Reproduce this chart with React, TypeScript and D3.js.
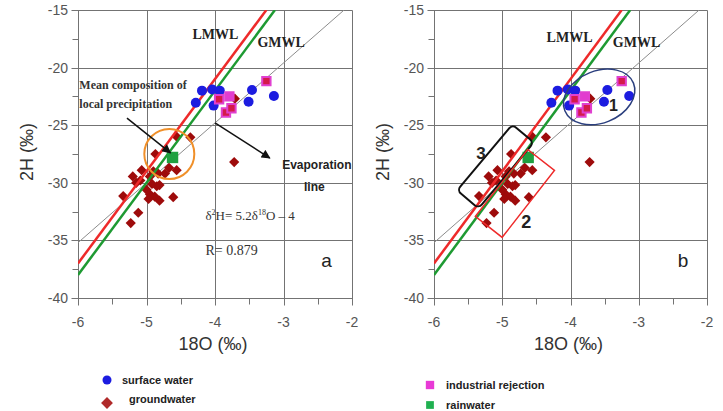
import React from 'react'
import * as d3 from 'd3'

// axis ticks
const xTicks = [-6, -5, -4, -3, -2]
const xMinorTicks = [-5.5, -4.5, -3.5, -2.5]
const yTicks = [-40, -35, -30, -25, -20, -15]
const yMinorTicks = [-37.5, -32.5, -27.5, -22.5, -17.5]

// surface water (blue circles)
const surfaceX = [-4.28, -4.19, -4.04, -4.02, -3.93, -3.46, -3.51, -3.14]
const surfaceY = [-23.05, -22.0, -21.9, -23.3, -22.0, -21.95, -22.96, -22.47]

// groundwater (dark red diamonds)
const groundX = [-3.71, -3.72, -4.36, -4.56, -4.87, -5.2, -5.07, -5.09, -4.95, -4.83, -4.73, -4.67, -4.56, -4.85, -4.95, -4.88, -4.61, -5.34, -4.92, -4.81, -4.97, -4.81, -5.12, -5.23, -5.0, -5.15, -4.9]
const groundY = [-22.7, -28.2, -26.05, -26.0, -27.5, -29.45, -28.9, -29.8, -29.45, -29.2, -29.2, -28.7, -28.9, -30.3, -31.0, -31.2, -31.25, -31.15, -30.1, -30.2, -31.4, -31.55, -32.6, -33.5, -30.6, -30.0, -29.0]

// industrial rejection (magenta squares)
const industrialX = [-3.25, -3.79, -3.94, -3.84, -3.76]
const industrialY = [-21.17, -22.5, -22.75, -23.9, -23.53]

// rainwater (green square)
const rainX = [-4.62]
const rainY = [-27.8]

// water lines: dH = slope * dO + intercept
const lineNames = ['Evaporation', 'LMWL', 'GMWL']
const lineSlopes = [5.2, 8, 8]
const lineIntercepts = [-4, 11, 10]
const lineColors = ['#8c8c8c', '#ee2a2a', '#1e9a32']
const lineWidths = [1, 2.5, 2.5]

const SANS = 'Liberation Sans, Arial, sans-serif'
const SERIF = 'Liberation Serif, Times New Roman, serif'

const square = d3.symbol().type(d3.symbolSquare)

function Panel({ left, right, tag }: { left: number; right: number; tag: 'a' | 'b' }) {
  const x = d3.scaleLinear().domain([-6, -2]).range([left, right])
  const y = d3.scaleLinear().domain([-40, -15]).range([298, 10])
  const px = (v: number) => Math.round(x(v)) + 0.5
  const py = (v: number) => Math.round(y(v)) + 0.5
  const line = d3.line<number>().x((d) => x(d))
  const clipId = 'clip-' + tag

  return (
    <g>
      <defs>
        <clipPath id={clipId}>
          <rect x={x(-6)} y={y(-15)} width={x(-2) - x(-6)} height={y(-40) - y(-15)} />
        </clipPath>
        <marker id={'arrow-' + tag} viewBox="0 0 10 10" refX="9" refY="5" markerWidth="10" markerHeight="9" markerUnits="userSpaceOnUse" orient="auto">
          <path d="M0,0 L10,5 L0,10 z" fill="#111" />
        </marker>
      </defs>

      {/* grid */}
      {xTicks.map((t) => (
        <line key={'gx' + t} x1={px(t)} x2={px(t)} y1={py(-15)} y2={py(-40) + 7} stroke="#737373" strokeWidth={1} />
      ))}
      {yTicks.map((t) => (
        <line key={'gy' + t} x1={px(-6) - 7} x2={px(-2)} y1={py(t)} y2={py(t)} stroke="#737373" strokeWidth={1} />
      ))}
      {xMinorTicks.map((t) => (
        <line key={'mx' + t} x1={px(t)} x2={px(t)} y1={py(-40)} y2={py(-40) + 6} stroke="#737373" />
      ))}
      {yMinorTicks.map((t) => (
        <line key={'my' + t} x1={px(-6) - 6} x2={px(-6)} y1={py(t)} y2={py(t)} stroke="#737373" />
      ))}

      {/* tick labels */}
      {xTicks.map((t) => (
        <text key={'lx' + t} x={x(t)} y={y(-40) + 29} textAnchor="middle" fontFamily={SANS} fontSize={14} fill="#555">
          {t}
        </text>
      ))}
      {yTicks.map((t) => (
        <text key={'ly' + t} x={x(-6) - 10} y={y(t) + 5} textAnchor="end" fontFamily={SANS} fontSize={14} fill="#555">
          {t}
        </text>
      ))}

      {/* axis titles */}
      <text x={(x(-6) + x(-2)) / 2 - 2} y={350} textAnchor="middle" fontFamily={SANS} fontSize={18} fill="#333">
        18O (‰)
      </text>
      <text transform={`translate(${x(-6) - 45},152) rotate(-90)`} textAnchor="middle" fontFamily={SANS} fontSize={18} fill="#333">
        2H (‰)
      </text>

      <g clipPath={`url(#${clipId})`}>
        {/* evaporation line below the points */}
        <path
          d={line.y((d) => y(lineSlopes[0] * d + lineIntercepts[0]))([-6, (-15 - lineIntercepts[0]) / lineSlopes[0]]) ?? ''}
          stroke={lineColors[0]}
          strokeWidth={lineWidths[0]}
          fill="none"
        />

        {groundX.map((d, i) => (
          <path
            key={'gw' + i}
            d={square.size(52)() ?? ''}
            transform={`translate(${x(d)},${y(groundY[i])}) rotate(45)`}
            fill="#9e0b0b"
          />
        ))}

        {lineNames.slice(1).map((name, k) => {
          const i = k + 1
          const xEnd = Math.min(-2, (-15 - lineIntercepts[i]) / lineSlopes[i])
          return (
            <path
              key={name}
              d={line.y((d) => y(lineSlopes[i] * d + lineIntercepts[i]))([-6, xEnd]) ?? ''}
              stroke={lineColors[i]}
              strokeWidth={lineWidths[i]}
              fill="none"
            />
          )
        })}

        {surfaceX.map((d, i) => (
          <circle key={'sw' + i} cx={x(d)} cy={y(surfaceY[i])} r={5} fill="#1c1ce0" />
        ))}

        {industrialX.map((d, i) => (
          <path
            key={'ir' + i}
            d={square.size(70)() ?? ''}
            transform={`translate(${x(d)},${y(industrialY[i])})`}
            fill={i === 1 ? '#e23ccf' : '#d41a4a'}
            stroke="#e040d0"
            strokeWidth={2}
          />
        ))}

        {rainX.map((d, i) => (
          <path key={'rw' + i} d={square.size(130)() ?? ''} transform={`translate(${x(d)},${y(rainY[i])})`} fill="#1fa040" />
        ))}
      </g>

      {/* line labels */}
      <text x={x(tag === 'a' ? -4.33 : -4.35)} y={y(tag === 'a' ? -17.55 : -17.75)} fontFamily={SERIF} fontWeight="bold" fontSize={14} fill="#222">
        LMWL
      </text>
      <text x={x(-3.38)} y={y(-18.2)} fontFamily={SERIF} fontWeight="bold" fontSize={14} fill="#222">
        GMWL
      </text>

      {tag === 'a' ? (
        <g>
          <circle cx={x(-4.667)} cy={y(-27.5)} r={25} fill="none" stroke="#f0902a" strokeWidth={2} />
          <text x={x(-5.98)} y={y(-21.85)} fontFamily={SERIF} fontWeight="bold" fontSize={12} fill="#333">
            Mean composition of
          </text>
          <text x={x(-5.98)} y={y(-23.5)} fontFamily={SERIF} fontWeight="bold" fontSize={12} fill="#333">
            local precipitation
          </text>
          <line x1={x(-5.285)} y1={y(-24.38)} x2={x(-4.65)} y2={y(-27.4)} stroke="#111" strokeWidth={1.5} markerEnd={'url(#arrow-' + tag + ')'} />
          <line x1={x(-4.0)} y1={y(-24.8)} x2={x(-3.2)} y2={y(-27.85)} stroke="#111" strokeWidth={1.5} markerEnd={'url(#arrow-' + tag + ')'} />
          <text x={x(-3.02)} y={y(-28.8)} fontFamily={SANS} fontWeight="bold" fontSize={12} fill="#222">
            Evaporation
          </text>
          <text x={x(-2.55)} y={y(-30.7)} textAnchor="middle" fontFamily={SANS} fontWeight="bold" fontSize={12} fill="#222">
            line
          </text>
          <text x={x(-4.14)} y={y(-33.2)} fontFamily={SERIF} fontSize={13} fill="#333">
            δ<tspan dy={-5} fontSize={8}>2</tspan>
            <tspan dy={5}>H= 5.2δ</tspan>
            <tspan dy={-5} fontSize={8}>18</tspan>
            <tspan dy={5}>O – 4</tspan>
          </text>
          <text x={x(-4.14)} y={y(-36.25)} fontFamily={SERIF} fontSize={14} fill="#333">
            R= 0.879
          </text>
        </g>
      ) : (
        <g>
          <ellipse
            cx={x(-3.58)}
            cy={y(-22.55)}
            rx={37}
            ry={26}
            transform={`rotate(-22 ${x(-3.58)} ${y(-22.55)})`}
            fill="none"
            stroke="#2b3f7e"
            strokeWidth={1.5}
          />
          <text x={x(-3.37)} y={y(-23.8)} textAnchor="middle" fontFamily={SANS} fontWeight="bold" fontSize={16} fill="#222">
            1
          </text>
          <rect
            x={x(-5.1) - 14}
            y={y(-28.58) - 43}
            width={28}
            height={86}
            rx={5}
            transform={`rotate(40 ${x(-5.1)} ${y(-28.58)})`}
            fill="none"
            stroke="#111"
            strokeWidth={2}
          />
          <text x={x(-5.31)} y={y(-27.95)} textAnchor="middle" fontFamily={SANS} fontWeight="bold" fontSize={17} fill="#222">
            3
          </text>
          <rect
            x={x(-4.81) - 17}
            y={y(-30.89) - 42}
            width={34}
            height={85}
            transform={`rotate(38 ${x(-4.81)} ${y(-30.89)})`}
            fill="none"
            stroke="#ee2a2a"
            strokeWidth={1.5}
          />
          <text x={x(-4.65)} y={y(-33.95)} textAnchor="middle" fontFamily={SANS} fontWeight="bold" fontSize={18} fill="#222">
            2
          </text>
        </g>
      )}

      <text x={x(tag === 'a' ? -2.45 : -2.43)} y={y(-37.35)} fontFamily={SANS} fontSize={19} fill="#222">
        {tag}
      </text>
    </g>
  )
}

export default function App() {
  return (
    <svg width={723} height={411} style={{ position: 'absolute', left: 0, top: 0, background: '#fff' }}>
      <Panel left={78} right={352} tag="a" />
      <Panel left={434} right={707} tag="b" />

      {/* legend */}
      <g fontFamily={SANS} fontWeight="bold" fontSize={11} fill="#222">
        <circle cx={107} cy={380} r={4.5} fill="#1c1ce0" />
        <text x={122} y={384}>surface water</text>
        <path d={square.size(70)() ?? ''} transform="translate(107,403) rotate(45)" fill="#b02a2a" />
        <text x={129} y={403}>groundwater</text>
        <path d={square.size(70)() ?? ''} transform="translate(430,385)" fill="#e83ad6" />
        <text x={446} y={389}>industrial rejection</text>
        <path d={square.size(60)() ?? ''} transform="translate(430,405)" fill="#1fb050" />
        <text x={446} y={409}>rainwater</text>
      </g>
    </svg>
  )
}
